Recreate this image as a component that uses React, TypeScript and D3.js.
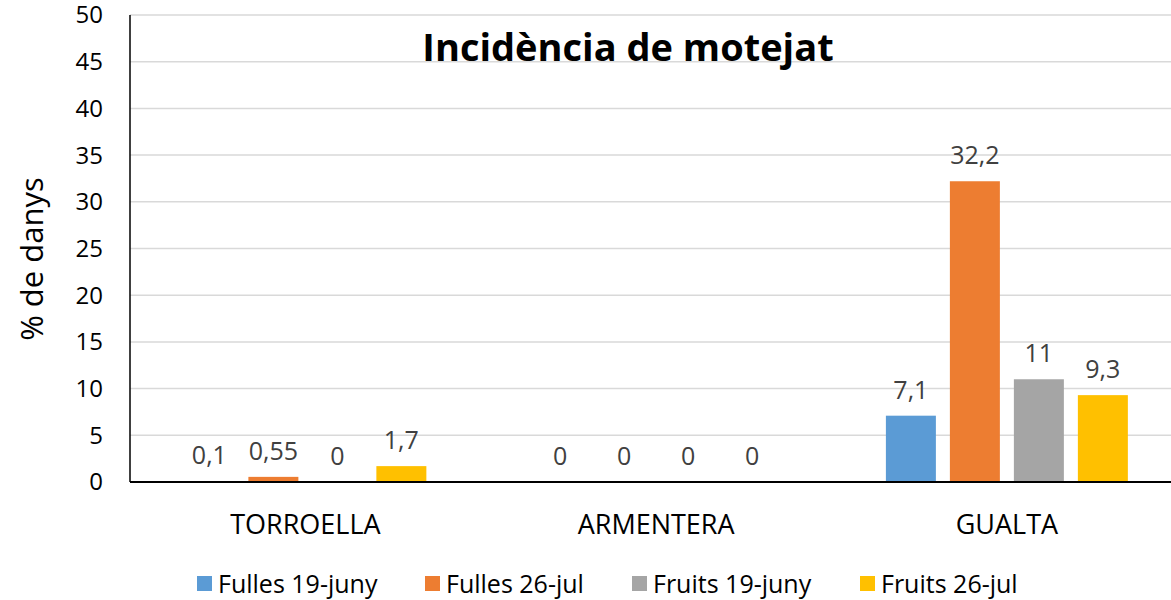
import React, { useEffect, useRef } from 'react'
import * as d3 from 'd3'

const categories = ['TORROELLA', 'ARMENTERA', 'GUALTA']
const seriesNames = ['Fulles 19-juny', 'Fulles 26-jul', 'Fruits 19-juny', 'Fruits 26-jul']
const fulles19 = [0.1, 0, 7.1]
const fulles26 = [0.55, 0, 32.2]
const fruits19 = [0, 0, 11]
const fruits26 = [1.7, 0, 9.3]
const yTicks = [0, 5, 10, 15, 20, 25, 30, 35, 40, 45, 50]
const colors = ['#5B9BD5', '#ED7D31', '#A5A5A5', '#FFC000']

const W = 1171
const H = 600
const FONT = '"Open Sans", sans-serif'

export default function App() {
  const ref = useRef<SVGSVGElement>(null)

  useEffect(() => {
    const svg = d3.select(ref.current)
    svg.selectAll('*').remove()

    const series = [fulles19, fulles26, fruits19, fruits26]
    const left = 130
    const top = 15
    const bottom = 482

    const x = d3.scaleBand().domain(categories).range([left, left + 3 * 350.75])
    const x1 = d3.scaleBand<number>()
      .domain(d3.range(series.length))
      .range([0, x.bandwidth()])
      .paddingInner(0.21875)
      .paddingOuter(0.85)
    const y = d3.scaleLinear().domain([0, 50]).range([bottom, top])

    // gridlines
    svg.append('g')
      .selectAll('line')
      .data(yTicks.filter(t => t > 0))
      .enter()
      .append('line')
      .attr('x1', left)
      .attr('x2', W)
      .attr('y1', d => y(d))
      .attr('y2', d => y(d))
      .attr('stroke', '#d9d9d9')
      .attr('stroke-width', 1.5)

    // y tick labels
    svg.append('g')
      .selectAll('text')
      .data(yTicks)
      .enter()
      .append('text')
      .attr('x', 103)
      .attr('y', d => y(d))
      .attr('dy', '0.35em')
      .attr('text-anchor', 'end')
      .attr('font-family', FONT)
      .attr('font-size', 24)
      .attr('fill', '#000')
      .text(d => d)

    // bars
    const groups = svg.append('g')
      .selectAll('g')
      .data(categories)
      .enter()
      .append('g')
      .attr('transform', d => `translate(${x(d)},0)`)

    groups.each(function (cat, ci) {
      const g = d3.select(this)
      series.forEach((s, si) => {
        const v = s[ci]
        const bx = x1(si) as number
        g.append('rect')
          .attr('x', bx)
          .attr('y', y(v))
          .attr('width', x1.bandwidth())
          .attr('height', bottom - y(v))
          .attr('fill', colors[si])
        g.append('text')
          .attr('x', bx + x1.bandwidth() / 2)
          .attr('y', y(v) - 17)
          .attr('text-anchor', 'middle')
          .attr('font-family', FONT)
          .attr('font-size', 25)
          .attr('fill', '#404040')
          .text(String(v).replace('.', ','))
      })
    })

    // axes lines
    svg.append('line')
      .attr('x1', left).attr('x2', W)
      .attr('y1', bottom).attr('y2', bottom)
      .attr('stroke', '#000').attr('stroke-width', 2)
    svg.append('line')
      .attr('x1', left).attr('x2', left)
      .attr('y1', top).attr('y2', bottom)
      .attr('stroke', '#000').attr('stroke-width', 1.5)

    // category labels
    svg.append('g')
      .selectAll('text')
      .data(categories)
      .enter()
      .append('text')
      .attr('x', d => (x(d) as number) + x.bandwidth() / 2)
      .attr('y', 534)
      .attr('text-anchor', 'middle')
      .attr('font-family', FONT)
      .attr('font-size', 27)
      .attr('fill', '#000')
      .text(d => d)

    // title
    svg.append('text')
      .attr('x', 628)
      .attr('y', 61)
      .attr('text-anchor', 'middle')
      .attr('font-family', FONT)
      .attr('font-size', 38)
      .attr('font-weight', 'bold')
      .attr('fill', '#000')
      .text('Incidència de motejat')

    // y label
    svg.append('text')
      .attr('transform', 'translate(43,259) rotate(-90)')
      .attr('text-anchor', 'middle')
      .attr('font-family', FONT)
      .attr('font-size', 31)
      .attr('fill', '#000')
      .text('% de danys')

    // legend
    const legendX = [197, 425, 632, 860]
    const legend = svg.append('g')
      .selectAll('g')
      .data(seriesNames)
      .enter()
      .append('g')
      .attr('transform', (d, i) => `translate(${legendX[i]},576)`)
    legend.append('rect')
      .attr('width', 15)
      .attr('height', 15)
      .attr('fill', (d, i) => colors[i])
    legend.append('text')
      .attr('x', 21)
      .attr('y', 8)
      .attr('dy', '0.35em')
      .attr('font-family', FONT)
      .attr('font-size', 25)
      .attr('fill', '#000')
      .text(d => d)
  }, [])

  return (
    <svg ref={ref} width={W} height={H} style={{ display: 'block', position: 'absolute', left: 0, top: 0, background: '#fff' }} />
  )
}
